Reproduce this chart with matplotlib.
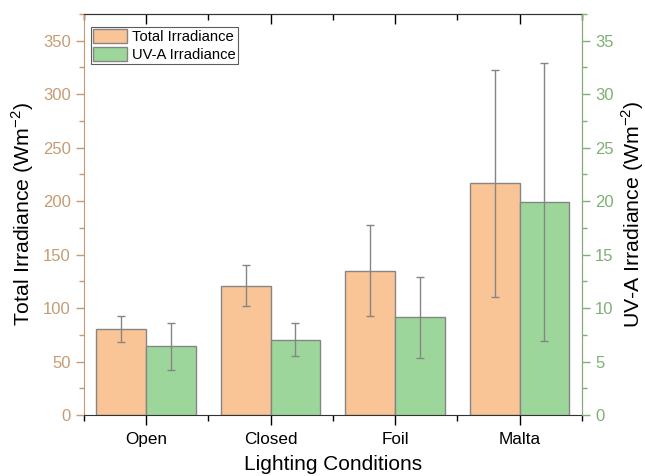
import matplotlib
matplotlib.use("Agg")
import matplotlib.pyplot as plt
import numpy as np
from matplotlib.ticker import MultipleLocator, FixedLocator

plt.rcParams['font.family'] = ['Liberation Sans', 'DejaVu Sans']
plt.rcParams['mathtext.fontset'] = 'custom'
plt.rcParams['mathtext.rm'] = 'Liberation Sans'

categories = ["Open", "Closed", "Foil", "Malta"]
total_irr = [80.5, 121.0, 135.0, 216.5]
total_err = [12.0, 19.5, 42.6, 106.0]
uva_irr = [6.45, 7.05, 9.14, 19.93]
uva_err = [2.2, 1.53, 3.8, 13.0]

c_total = "#F9C597"
c_uva = "#9DD69B"
c_left = "#C49C74"
c_right = "#7FAF74"
c_edge = "#858585"

fig = plt.figure(figsize=(6.45, 4.76), dpi=100)
ax = fig.add_axes([0.130, 0.128, 0.772, 0.843])
ax2 = ax.twinx()

x = np.arange(len(categories))
w = 0.4
b1 = ax.bar(x - w / 2, total_irr, w, color=c_total, edgecolor=c_edge, linewidth=1.0,
            label="Total Irradiance", zorder=2)
ax.errorbar(x - w / 2, total_irr, yerr=total_err, fmt='none', ecolor=c_edge,
            elinewidth=1.0, capsize=3, capthick=1.0, zorder=3)
b2 = ax2.bar(x + w / 2, uva_irr, w, color=c_uva, edgecolor=c_edge, linewidth=1.0,
             label="UV-A Irradiance", zorder=2)
ax2.errorbar(x + w / 2, uva_irr, yerr=uva_err, fmt='none', ecolor=c_edge,
             elinewidth=1.0, capsize=3, capthick=1.0, zorder=3)

ax.set_xlim(-0.5, 3.5)
ax.set_ylim(0, 375)
ax2.set_ylim(0, 37.5)

ax.set_xticks(x)
ax.set_xticklabels(categories, fontsize=12.3)
ax.xaxis.set_minor_locator(FixedLocator([-0.5, 0.5, 1.5, 2.5, 3.5]))
ax.tick_params(axis='x', which='major', direction='out', length=7, width=1, top=False, pad=5)
ax.tick_params(axis='x', which='minor', direction='out', length=4, width=1, top=False)

sec = ax.secondary_xaxis('top')
sec.set_xticks(x)
sec.xaxis.set_minor_locator(FixedLocator([-0.5, 0.5, 1.5, 2.5, 3.5]))
sec.tick_params(axis='x', which='major', direction='in', length=7, width=1, labeltop=False)
sec.tick_params(axis='x', which='minor', direction='in', length=4, width=1)
sec.spines['top'].set_color('#333333')

ax.yaxis.set_major_locator(MultipleLocator(50))
ax.yaxis.set_minor_locator(MultipleLocator(25))
ax.tick_params(axis='y', which='major', direction='out', length=6, width=1,
               colors=c_left, labelsize=12)
ax.tick_params(axis='y', which='minor', direction='out', length=3.5, width=1, colors=c_left)

ax2.yaxis.set_major_locator(MultipleLocator(5))
ax2.yaxis.set_minor_locator(MultipleLocator(2.5))
ax2.tick_params(axis='y', which='major', direction='out', length=6, width=1,
                colors=c_right, labelsize=12)
ax2.tick_params(axis='y', which='minor', direction='out', length=3.5, width=1, colors=c_right)

for a in (ax, ax2):
    a.spines['left'].set_color(c_left)
    a.spines['right'].set_color(c_right)
    a.spines['bottom'].set_color('#333333')
    a.spines['top'].set_color('#333333')
ax2.spines['left'].set_visible(False)
ax2.spines['bottom'].set_visible(False)
ax2.spines['top'].set_visible(False)

ax.set_ylabel(r"Total Irradiance (Wm$^{\mathregular{-2}}$)", fontsize=15.3, labelpad=5)
ax2.set_ylabel(r"UV-A Irradiance (Wm$^{\mathregular{-2}}$)", fontsize=15.3, labelpad=4)
ax.set_xlabel("Lighting Conditions", fontsize=15, labelpad=6)

leg = ax.legend([b1, b2], ["Total Irradiance", "UV-A Irradiance"], loc='upper left',
                bbox_to_anchor=(0.014, 0.968), borderaxespad=0.0,
                fontsize=10.6, frameon=True, fancybox=False, edgecolor='#333333',
                handlelength=2.3, handleheight=1.1,
                handletextpad=0.35, borderpad=0.15, labelspacing=0.2)
leg.get_frame().set_linewidth(0.8)
leg.set_zorder(5)

fig.savefig("out.png", dpi=100)
